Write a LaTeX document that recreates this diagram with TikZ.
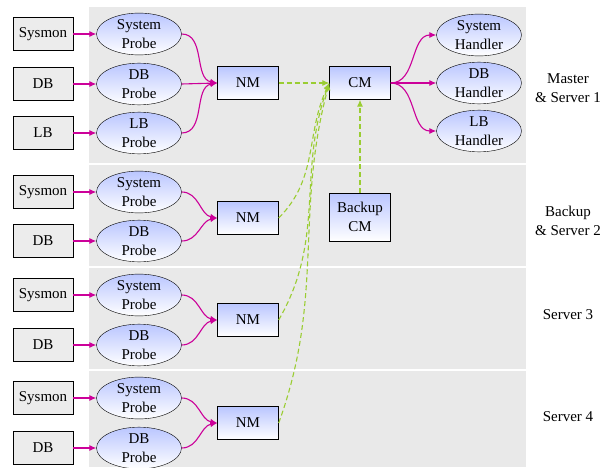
\documentclass[tikz,border=0pt]{standalone}
\usepackage{fontspec}
\setmainfont{Liberation Serif}
\usetikzlibrary{arrows.meta, shapes.geometric}

\definecolor{magarr}{RGB}{204,0,153}
\definecolor{limearr}{RGB}{154,205,50}
\definecolor{panelgray}{RGB}{233,233,233}
\definecolor{srcgray}{RGB}{236,236,236}
\definecolor{topblue}{RGB}{186,198,255}

\newcommand{\figfont}{\fontsize{15}{19.5}\selectfont}

\begin{document}
\begin{tikzpicture}[x=1pt, y=1pt,
  src/.style   = {draw, fill=srcgray, minimum width=60pt, minimum height=33pt,
                  inner sep=0pt, font=\figfont},
  probe/.style = {ellipse, draw, top color=topblue, bottom color=white,
                  minimum width=85pt, minimum height=39pt, inner sep=0pt,
                  align=center, font=\figfont},
  mgr/.style   = {draw, top color=topblue, bottom color=white,
                  minimum width=61pt, minimum height=33pt, inner sep=0pt,
                  align=center, font=\figfont},
  lbl/.style   = {align=center, font=\figfont},
  marr/.style  = {-{Latex[length=7pt,width=6pt]}, draw=magarr, line width=1.1pt},
  garr/.style  = {-{Latex[length=7pt,width=6pt]}, draw=limearr, line width=1.1pt,
                  dash pattern=on 5pt off 3pt},
  panel/.style = {fill=panelgray},
]
\useasboundingbox (0,0) rectangle (613,467);

%% ── panels ──────────────────────────────────────────────────────────────────
\fill[panel] (89,460) rectangle (526,304);
\fill[panel] (89,302) rectangle (526,201);
\fill[panel] (89,199) rectangle (526,98);
\fill[panel] (89,96)  rectangle (526,0);

%% ── Master & Server 1 ───────────────────────────────────────────────────────
\node[src]   (sys1)  at (43,433)  {Sysmon};
\node[src]   (db1)   at (43,383)  {DB};
\node[src]   (lb1)   at (43,334)  {LB};
\node[probe] (sysp1) at (139,433) {System\\Probe};
\node[probe] (dbp1)  at (139,383) {DB\\Probe};
\node[probe] (lbp1)  at (139,334) {LB\\Probe};
\node[mgr]   (nm1)   at (248,384) {NM};
\node[mgr]   (cm)    at (360,384) {CM};
\node[probe] (sysh)  at (479,432) {System\\Handler};
\node[probe] (dbh)   at (479,384) {DB\\Handler};
\node[probe] (lbh)   at (479,336) {LB\\Handler};
\node[lbl]   (l1)    at (568,379) {Master\\\& Server 1};

\draw[marr] (sys1.east) -- (sysp1.west);
\draw[marr] (db1.east)  -- (dbp1.west);
\draw[marr] (lb1.east)  -- (lbp1.west);
\draw[marr] (sysp1.east) to[out=0,in=170] (nm1.west);
\draw[marr] (dbp1.east)  -- (nm1.west);
\draw[marr] (lbp1.east)  to[out=0,in=190] (nm1.west);
\draw[marr] (cm.east) to[out=0,in=180] (sysh.west);
\draw[marr] (cm.east) -- (dbh.west);
\draw[marr] (cm.east) to[out=0,in=180] (lbh.west);
\draw[garr] (nm1.east) -- (cm.west);

%% ── Backup & Server 2 ───────────────────────────────────────────────────────
\node[src]   (sys2)  at (43,275)  {Sysmon};
\node[src]   (db2)   at (43,226)  {DB};
\node[probe] (sysp2) at (139,275) {System\\Probe};
\node[probe] (dbp2)  at (139,226) {DB\\Probe};
\node[mgr]   (nm2)   at (248,249) {NM};
\node[mgr, minimum height=48pt] (bcm) at (360,250) {Backup\\CM};
\node[lbl]   (l2)    at (568,246) {Backup\\\& Server 2};

\draw[marr] (sys2.east) -- (sysp2.west);
\draw[marr] (db2.east)  -- (dbp2.west);
\draw[marr] (sysp2.east) to[out=0,in=170] (nm2.west);
\draw[marr] (dbp2.east)  to[out=0,in=190] (nm2.west);
\draw[garr] (bcm.north) -- (cm.south);

%% ── Server 3 ────────────────────────────────────────────────────────────────
\node[src]   (sys3)  at (43,172)  {Sysmon};
\node[src]   (db3)   at (43,122)  {DB};
\node[probe] (sysp3) at (139,172) {System\\Probe};
\node[probe] (dbp3)  at (139,122) {DB\\Probe};
\node[mgr]   (nm3)   at (248,147) {NM};
\node[lbl]   (l3)    at (568,152) {Server 3};

\draw[marr] (sys3.east) -- (sysp3.west);
\draw[marr] (db3.east)  -- (dbp3.west);
\draw[marr] (sysp3.east) to[out=0,in=170] (nm3.west);
\draw[marr] (dbp3.east)  to[out=0,in=190] (nm3.west);

%% ── Server 4 ────────────────────────────────────────────────────────────────
\node[src]   (sys4)  at (43,69)  {Sysmon};
\node[src]   (db4)   at (43,19)  {DB};
\node[probe] (sysp4) at (139,69) {System\\Probe};
\node[probe] (dbp4)  at (139,19) {DB\\Probe};
\node[mgr]   (nm4)   at (248,44) {NM};
\node[lbl]   (l4)    at (568,50) {Server 4};

\draw[marr] (sys4.east) -- (sysp4.west);
\draw[marr] (db4.east)  -- (dbp4.west);
\draw[marr] (sysp4.east) to[out=0,in=170] (nm4.west);
\draw[marr] (dbp4.east)  to[out=0,in=190] (nm4.west);

%% ── NM -> CM reports ────────────────────────────────────────────────────────
\draw[garr] (nm2.east) to[out=45,in=245] (cm.west);
\draw[garr] (nm3.east) to[out=60,in=250] (cm.west);
\draw[garr] (nm4.east) to[out=70,in=255] (cm.west);

\end{tikzpicture}
\end{document}
